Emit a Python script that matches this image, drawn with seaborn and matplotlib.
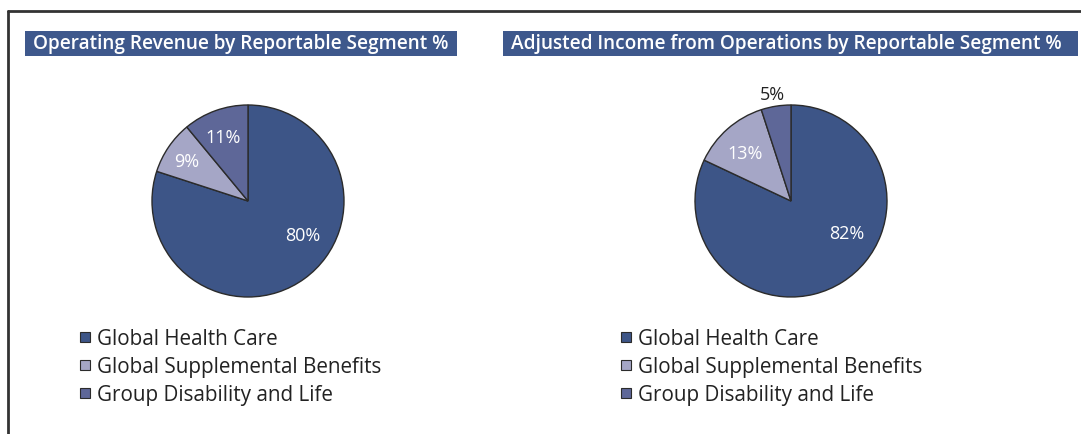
import matplotlib
matplotlib.use("Agg")
import matplotlib.pyplot as plt
from matplotlib.patches import Rectangle
from matplotlib.lines import Line2D
import numpy as np
import seaborn as sns

segments = ["Global Health Care", "Global Supplemental Benefits", "Group Disability and Life"]
revenue_pct = [80, 9, 11]
income_pct = [82, 13, 5]
titles = ["Operating Revenue by Reportable Segment %",
          "Adjusted Income from Operations by Reportable Segment %"]

sns.set_theme(style="white")
plt.rcParams["font.family"] = ["Open Sans", "DejaVu Sans"]

colors = ["#3D5587", "#A5A6C6", "#5E6798"]
edge = "#2b2b2b"
W, H = 1081, 435

fig = plt.figure(figsize=(W / 100, H / 100), dpi=100)

# frame lines (top and left)
fig.add_artist(Line2D([8 / W, 1], [1 - 12 / H, 1 - 12 / H], color="#333333", lw=2))
fig.add_artist(Line2D([8 / W, 8 / W], [0, 1 - 12 / H], color="#333333", lw=2))


def title_box(x0, x1, text):
    fig.add_artist(Rectangle((x0 / W, 1 - 57 / H), (x1 - x0) / W, 25 / H,
                             transform=fig.transFigure, color="#3E588C", lw=0))
    fig.text((x0 + 8) / W, 1 - 44.5 / H, text, color="white", fontsize=13.7,
             va="center", ha="left", fontweight="semibold")


title_box(25, 457, titles[0])
title_box(503, 1078, titles[1])

# label placements in pie units (angle deg, radius) per slice
label_pos = [
    [(-32, 0.67), (147, 0.76), (111, 0.71)],
    [(-30, 0.67), (134, 0.69), (100, 1.13)],
]
label_col = [["white", "white", "white"], ["white", "white", "#222222"]]


def draw_pie(cx, values, pos, cols):
    r = 96
    ax = fig.add_axes([(cx - r) / W, (H - 202 - r) / H, 2 * r / W, 2 * r / H])
    ax.pie(values, colors=colors, startangle=90, counterclock=False,
           wedgeprops=dict(edgecolor=edge, linewidth=1.0))
    ax.set_xlim(-1, 1)
    ax.set_ylim(-1, 1)
    ax.set_aspect("equal")
    ax.axis("off")
    for v, (ang, rad), c in zip(values, pos, cols):
        a = np.deg2rad(ang)
        ax.text(rad * np.cos(a), rad * np.sin(a), f"{v}%", color=c, fontsize=13,
                ha="center", va="center", clip_on=False, fontweight="medium")
    return ax


draw_pie(248, revenue_pct, label_pos[0], label_col[0])
draw_pie(791, income_pct, label_pos[1], label_col[1])

handles = [Line2D([], [], marker="s", ls="none", markersize=6.5, markerfacecolor=c,
                  markeredgecolor=edge, markeredgewidth=0.8) for c in colors]
for x in [79, 620]:
    fig.legend(handles, segments, loc="upper left", bbox_to_anchor=(x / W, 1 - 329 / H),
               frameon=False, fontsize=14.9, handlelength=0.6, handletextpad=0.27,
               labelspacing=0.34, borderpad=0, borderaxespad=0, labelcolor="#222222")

fig.savefig("out.png", dpi=100)
